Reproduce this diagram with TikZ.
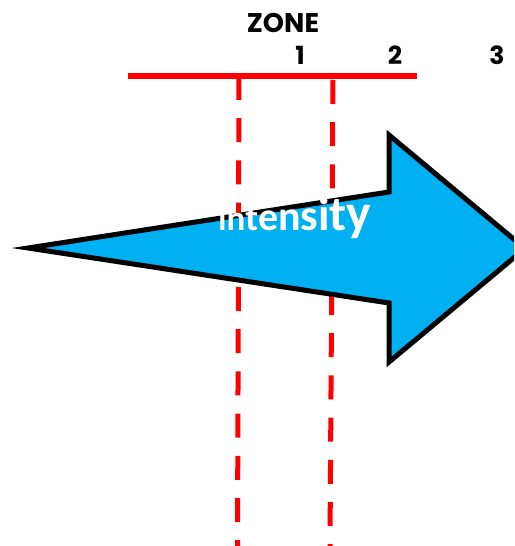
\documentclass[tikz,border=0pt]{standalone}
\usepackage{fontspec}
\newfontfamily\zonefont{Poppins}
\newfontfamily\intfont{Carlito}
\definecolor{arrowblue}{RGB}{0,176,240}
\newcommand\lt[2]{{\fontsize{#1}{#1}\selectfont #2}}
\newcommand\intword{\intfont\bfseries\lt{33}{i}\lt{35}{n}\lt{37}{t}\lt{40}{e}\lt{42}{n}\lt{44}{s}\lt{47}{i}\lt{49}{t}\lt{52}{y}}
\tikzset{
  zonelabel/.style={font=\zonefont\bfseries\fontsize{27}{27}\selectfont, anchor=base, inner sep=0pt},
  numlabel/.style={font=\zonefont\bfseries\fontsize{25}{25}\selectfont, anchor=base, inner sep=0pt},
  redbar/.style={draw=red, line width=6pt},
  reddash/.style={draw=red, line width=5pt, dash pattern=on 24pt off 18.2pt},
  bigarrow/.style={draw=black, fill=arrowblue, line width=5pt, line join=miter},
}
\begin{document}
\begin{tikzpicture}[x=1pt,y=-1pt]
\useasboundingbox (0,0) rectangle (514,546);
\clip (0,0) rectangle (514,546);
% ruler
\coordinate (barL) at (128,76);
\coordinate (barR) at (417,76);
\draw[redbar] (barL) -- (barR);
\coordinate (d1t) at (239,76);
\coordinate (d1b) at (237.5,546);
\coordinate (d2t) at (333,80);
\coordinate (d2b) at (330,546);
\draw[reddash] (d1t) -- (d1b);
\draw[reddash] (d2t) -- (d2b);
% labels
\node[zonelabel] (zone) at (283,32) {ZONE};
\node[numlabel] (z1) at (300,64) {1};
\node[numlabel] (z2) at (395,64) {2};
\node[numlabel] (z3) at (497,64) {3};
% arrow
\draw[bigarrow] (28,248) -- (389,192) -- (389,135) -- (525,248.5) -- (389,362) -- (389,303) -- cycle;
% text
\node[anchor=base, inner sep=0pt, text=white] (intensity) at (295,230) {\intword};
\end{tikzpicture}
\end{document}
